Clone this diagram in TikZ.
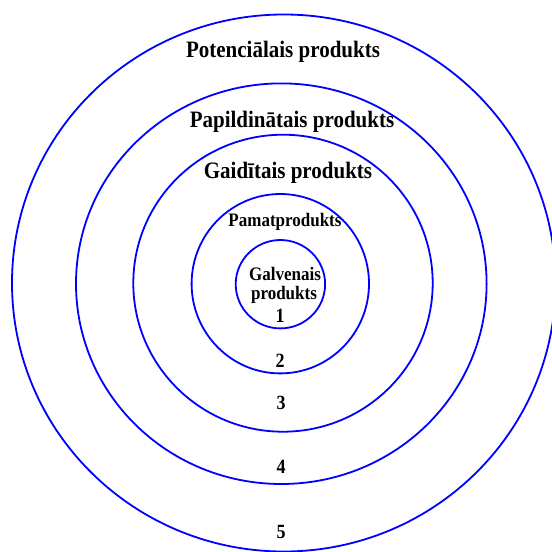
\documentclass[tikz,border=0pt]{standalone}
\usepackage{fontspec}
\setmainfont{Liberation Serif}
\newcommand{\tallt}[1]{\scalebox{1}[1.12]{#1}}
\begin{document}
\begin{tikzpicture}[x=1pt,y=-1pt,
  ring/.style={draw=blue,line width=1.8pt},
  lbl/.style={inner sep=0pt,font=\bfseries\fontsize{21}{23}\selectfont},
  small/.style={inner sep=0pt,font=\bfseries\fontsize{17}{19}\selectfont},
  num/.style={inner sep=0pt,font=\bfseries\fontsize{18}{20}\selectfont}]
\useasboundingbox (0,0) rectangle (552,552);
\draw[ring] (283.8,283) ellipse [x radius=271.8, y radius=268.5];
\draw[ring] (281.3,283.7) ellipse [x radius=205.3, y radius=200.3];
\draw[ring] (283,283.2) ellipse [x radius=149.7, y radius=148.5];
\draw[ring] (280.3,283.7) ellipse [x radius=88.7, y radius=89.7];
\draw[ring] (280.4,284.2) ellipse [x radius=44.7, y radius=44.2];
\node[lbl] (pot) at (283,52) {\tallt{Potenciālais produkts}};
\node[lbl] (pap) at (292,122) {\tallt{Papildinātais produkts}};
\node[lbl] (gai) at (288,173) {\tallt{Gaidītais produkts}};
\node[small] (pam) at (285,222) {\tallt{Pamatprodukts}};
\node[small] (gal) at (285,274) {\tallt{Galvenais}};
\node[small] (gp) at (284,295) {\tallt{produkts}};
\node[num] (n1) at (280,316) {\tallt{1}};
\node[num] (n2) at (280,361) {\tallt{2}};
\node[num] (n3) at (281,403) {\tallt{3}};
\node[num] (n4) at (281,467) {\tallt{4}};
\node[num] (n5) at (281,532) {\tallt{5}};
\end{tikzpicture}
\end{document}
